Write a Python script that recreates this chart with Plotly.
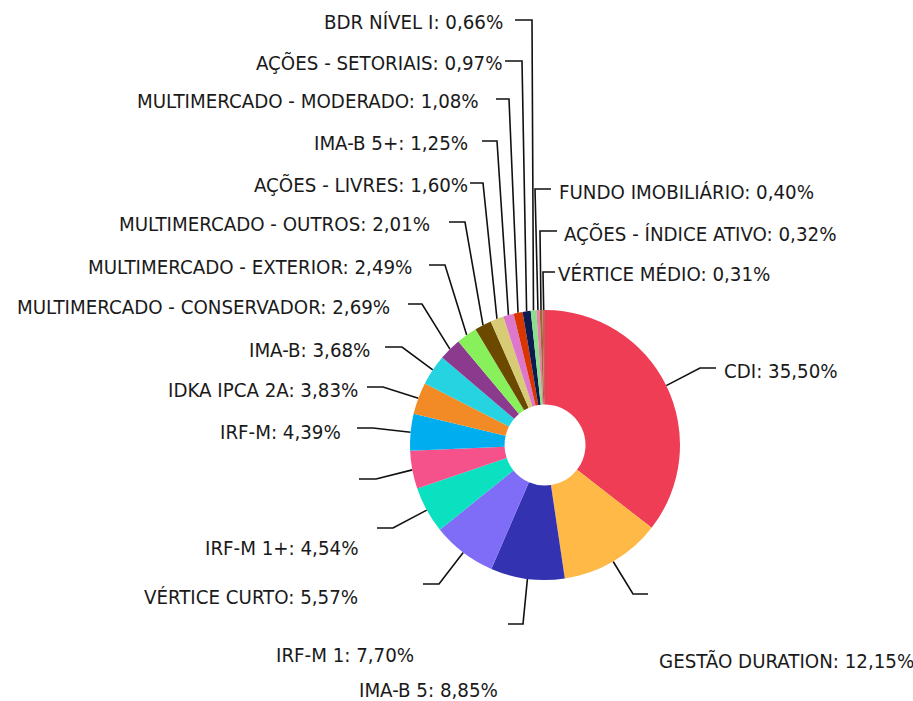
import math
import plotly.graph_objects as go

# ---------------- data ----------------
categories = [
    "CDI", "GESTÃO DURATION", "IMA-B 5", "IRF-M 1", "VÉRTICE CURTO", "IRF-M 1+",
    "IRF-M", "IDKA IPCA 2A", "IMA-B", "MULTIMERCADO - CONSERVADOR",
    "MULTIMERCADO - EXTERIOR", "MULTIMERCADO - OUTROS", "AÇÕES - LIVRES",
    "IMA-B 5+", "MULTIMERCADO - MODERADO", "AÇÕES - SETORIAIS", "BDR NÍVEL I",
    "FUNDO IMOBILIÁRIO", "AÇÕES - ÍNDICE ATIVO", "VÉRTICE MÉDIO",
]
values = [35.50, 12.15, 8.85, 7.70, 5.57, 4.54, 4.39, 3.83, 3.68, 2.69,
          2.49, 2.01, 1.60, 1.25, 1.08, 0.97, 0.66, 0.40, 0.32, 0.31]

# ---------------- style ----------------
colors = ["#EE3D55", "#FFB946", "#3333B2", "#7F6CF7", "#0BE0C0", "#F5518A",
          "#00AEEF", "#F28A25", "#26D3E0", "#8B3A8E", "#88F05A", "#6B4A00",
          "#D8CB75", "#DD77CC", "#D93500", "#0D1B50", "#88E08A", "#E87FA8",
          "#9A6A30", "#C75B5B"]

W, H = 913, 701
CX, CY, R = 545, 445, 135       # pie centre / radius in px
HOLE = 0.3
FONT = "DejaVu Sans Condensed, DejaVu Sans, sans-serif"
FSIZE = 20.3

# label layout: elbow (x, y), end of horizontal segment x, text x, text y, side
label_layout = [
    (700, 368, 716, 722, 371, "L"),
    (633, 594, 648, 657, 661, "L"),
    (523, 624, 508, 500, 690, "R"),
    (439, 584, 423, 416, 655, "R"),
    (393, 528, 377, 360, 597, "R"),
    (376, 479, 359, 360, 548, "R"),
    (373, 428, 357, 343, 432, "R"),
    (383, 387, 367, 360, 390, "R"),
    (402, 347, 385, 372, 350, "R"),
    (422, 304, 408, 392, 307, "R"),
    (445, 265, 429, 414, 267, "R"),
    (465, 222, 449, 432, 224, "R"),
    (483, 183, 470, 470, 185, "R"),
    (497, 141, 482, 470, 143, "R"),
    (509, 99, 496, 481, 101, "R"),
    (522, 61, 505, 505, 63, "R"),
    (532, 20, 515, 505, 22, "R"),
    (535, 189, 551, 557, 192, "L"),
    (540, 231, 557, 562, 234, "L"),
    (543, 272, 555, 556, 274, "L"),
]

def fmt(v):
    return f"{v:.2f}".replace(".", ",") + "%"

fig = go.Figure()
fig.add_trace(go.Pie(
    labels=categories, values=values, hole=HOLE, sort=False,
    direction="clockwise", rotation=0,
    marker=dict(colors=colors, line=dict(width=0)),
    textinfo="none", hoverinfo="label+percent", showlegend=False,
    domain=dict(x=[(CX - R) / W, (CX + R) / W],
                y=[(H - CY - R) / H, (H - CY + R) / H]),
))

total = sum(values)
cum = 0.0
annotations = []
for name, v, lay in zip(categories, values, label_layout):
    mid = (cum + v / 2) / total * 2 * math.pi
    cum += v
    sx = CX + R * math.sin(mid)
    sy = CY - R * math.cos(mid)
    ex, ey, hx, tx, ty, side = lay
    fig.add_trace(go.Scatter(
        x=[sx, ex, hx], y=[sy, ey, ey], mode="lines",
        line=dict(color="#111111", width=1.6), hoverinfo="skip",
        showlegend=False, xaxis="x", yaxis="y"))
    annotations.append(dict(
        x=tx, y=ty, xref="x", yref="y", text=f"{name}: {fmt(v)}",
        showarrow=False, xanchor="left" if side == "L" else "right",
        yanchor="middle", font=dict(family=FONT, size=FSIZE, color="#1a1a1a")))

fig.update_layout(
    width=W, height=H, margin=dict(l=0, r=0, t=0, b=0),
    paper_bgcolor="white", plot_bgcolor="rgba(0,0,0,0)",
    xaxis=dict(range=[0, W], visible=False, fixedrange=True),
    yaxis=dict(range=[H, 0], visible=False, fixedrange=True),
    annotations=annotations,
)
fig.write_html(
    "out.html",
    config={"displayModeBar": False},
    post_script="document.body.style.margin='0';document.body.style.overflow='hidden';",
)
